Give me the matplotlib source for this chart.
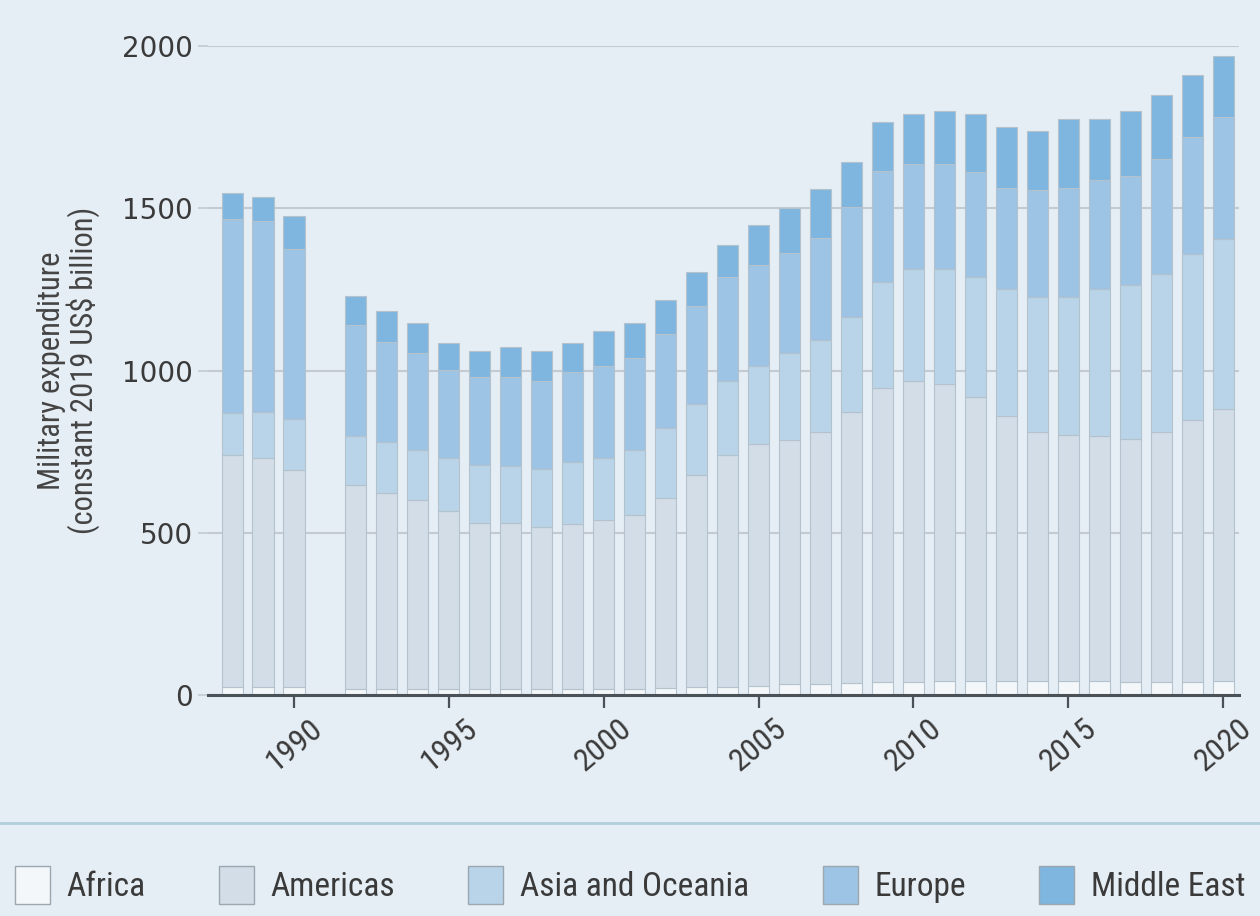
import matplotlib
matplotlib.use("Agg")
import matplotlib.pyplot as plt
from matplotlib import font_manager
from matplotlib.patches import Patch

# pick a narrow sans if there is one
def pick_font(names):
    for n in names:
        try:
            font_manager.findfont(n, fallback_to_default=False)
            return n
        except Exception:
            pass
    return "DejaVu Sans"

narrow = pick_font(["Liberation Sans Narrow", "Roboto Condensed", "Liberation Sans"])

# data: constant 2019 US$ billion (1991 has no bar)
years = [1988, 1989, 1990, 1992, 1993, 1994, 1995, 1996, 1997, 1998, 1999,
         2000, 2001, 2002, 2003, 2004, 2005, 2006, 2007, 2008, 2009, 2010,
         2011, 2012, 2013, 2014, 2015, 2016, 2017, 2018, 2019, 2020]
africa = [25, 25, 25, 20, 20, 20, 20, 18, 18, 18, 18,
          20, 20, 22, 24, 26, 28, 35, 36, 38, 40, 42,
          43, 43, 44, 45, 44, 43, 42, 42, 42, 43]
americas = [714, 705, 668, 628, 604, 580, 547, 512, 512, 500, 510,
            520, 534, 585, 653, 714, 746, 752, 774, 833, 905, 927,
            914, 876, 817, 767, 756, 755, 746, 769, 807, 840]
asia_oceania = [131, 141, 157, 149, 155, 156, 165, 178, 177, 178, 190,
                191, 201, 216, 220, 227, 241, 267, 283, 294, 328, 343,
                355, 368, 390, 415, 425, 452, 474, 487, 510, 523]
europe = [598, 588, 524, 342, 309, 298, 271, 273, 274, 273, 277,
          284, 285, 288, 302, 320, 310, 307, 314, 338, 340, 325,
          325, 324, 312, 328, 338, 337, 337, 352, 361, 374]
middle_east = [78, 76, 101, 91, 95, 93, 82, 79, 91, 91, 90,
               106, 105, 105, 103, 100, 123, 139, 151, 139, 151, 152,
               163, 178, 188, 183, 211, 187, 200, 197, 189, 189]

labels = ["Africa", "Americas", "Asia and Oceania", "Europe", "Middle East"]
colors = ["#f4f7fa", "#d2dde7", "#b9d3e8", "#9dc4e4", "#7fb6df"]
series = [africa, americas, asia_oceania, europe, middle_east]

bg = "#e6eef5"
fig = plt.figure(figsize=(12.6, 9.16), dpi=100, facecolor=bg)
ax = fig.add_axes([0.165, 0.241, 0.818, 0.709], facecolor=bg)

bottom = [0] * len(years)
for vals, col, lab in zip(series, colors, labels):
    ax.bar(years, vals, bottom=bottom, width=0.68, color=col,
           edgecolor="#b4c2ce", linewidth=0.8, label=lab, zorder=2)
    bottom = [b + v for b, v in zip(bottom, vals)]

ax.set_xlim(1987.22, 2020.5)
ax.set_ylim(0, 2000)
ax.set_yticks([0, 500, 1000, 1500, 2000])
ax.set_xticks([1990, 1995, 2000, 2005, 2010, 2015, 2020])
ax.grid(axis="y", color="#c3cad2", linewidth=1.5, zorder=0)

for s in ["top", "right", "left"]:
    ax.spines[s].set_visible(False)
ax.spines["bottom"].set_color("#4a5258")
ax.spines["bottom"].set_linewidth(2.2)
ax.spines["bottom"].set_zorder(3)

ax.tick_params(axis="y", length=7, width=1.2, color="#c3cad2", pad=4,
               labelsize=20, labelcolor="#3a3a3a")
ax.tick_params(axis="x", length=9, width=1.6, color="#4a5258", pad=4,
               labelsize=18, labelcolor="#3a3a3a")
for t in ax.get_xticklabels():
    t.set_rotation(40)
    t.set_ha("center")
    t.set_va("top")
    t.set_family(narrow)
    t.set_fontsize(23)

ax.set_ylabel("Military expenditure\n(constant 2019 US$ billion)",
              fontsize=22, color="#444444", family=narrow, labelpad=16,
              linespacing=1.0)

# separator above legend
fig.add_artist(plt.Line2D([0, 1], [0.1015, 0.1015], color="#b3cedc",
                          linewidth=2, transform=fig.transFigure))

handles = [Patch(facecolor=c, edgecolor="#9aa6b0", linewidth=1.0, label=l)
           for c, l in zip(colors, labels)]
leg = fig.legend(handles=handles, loc="center", bbox_to_anchor=(0.5, 0.034),
                 ncol=5, frameon=False, handlelength=1.05, handleheight=1.35,
                 handletextpad=0.5, columnspacing=2.2,
                 prop={"family": narrow, "size": 24})
for t in leg.get_texts():
    t.set_color("#3a3a3a")

fig.savefig("out.png", dpi=100, facecolor=bg)
